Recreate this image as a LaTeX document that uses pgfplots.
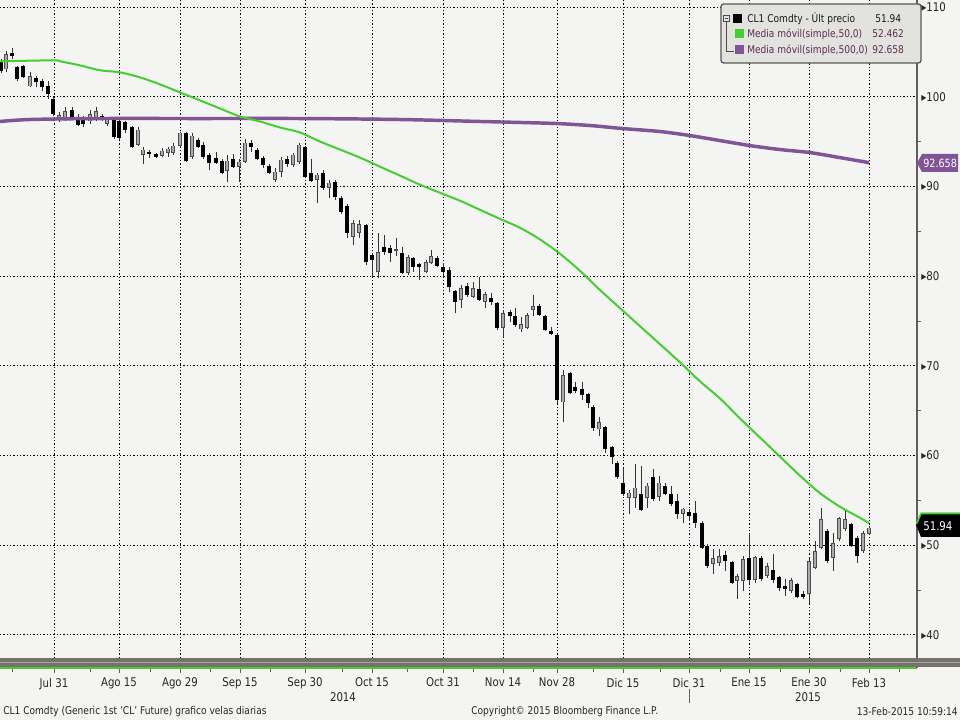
\documentclass[border=0pt]{standalone}
\usepackage{pgfplots}
\pgfplotsset{compat=1.18}
\usepackage{pgfplotstable}
\usepackage{fontspec}
\setmainfont{DejaVu Sans}[FakeStretch=0.85]

\definecolor{bgc}{RGB}{244,244,242}
\definecolor{magreen}{RGB}{70,205,50}
\definecolor{mapurple}{RGB}{128,84,150}
\definecolor{upfill}{RGB}{170,170,170}
\definecolor{axgray}{RGB}{95,95,95}
\definecolor{bandgray}{RGB}{118,113,105}
\definecolor{legfill}{RGB}{226,226,223}
\definecolor{legtext}{RGB}{95,45,85}

% daily candles, x = position along the time axis, o h l c in USD
\pgfplotstableread{
x o h l c
1 103.85 104.19 102.62 102.84
6 103.07 105.08 102.73 104.75
12 104.86 105.42 104.19 104.52
17 103.29 103.40 101.72 101.95
23 103.40 103.51 102.06 102.17
30 101.16 102.73 101.05 102.28
36 102.06 102.28 101.05 101.61
42 101.72 101.95 100.61 101.05
48 101.16 101.72 99.71 100.27
53 99.71 99.93 97.81 98.03
59 97.47 98.26 97.14 97.92
65 97.70 98.81 97.25 98.37
72 98.48 98.81 97.47 97.70
78 97.70 98.03 96.80 96.91
83 97.47 97.81 96.58 97.02
90 97.25 98.48 97.02 98.03
96 97.58 98.81 97.25 98.37
102 97.81 98.14 97.25 97.47
107 97.02 97.70 96.80 97.58
114 97.47 97.70 95.35 95.57
119 97.25 97.47 95.23 95.46
125 97.14 97.25 96.02 96.35
132 96.69 96.80 94.34 94.45
138 94.67 96.58 94.56 96.35
143 93.56 94.45 92.55 94.12
149 93.89 94.12 93.22 93.67
156 93.67 93.78 93.22 93.33
162 93.44 94.34 93.33 94.00
168 93.78 94.45 93.33 94.23
173 93.78 94.90 93.56 94.56
180 94.56 96.13 94.45 96.02
186 96.02 96.13 92.77 92.88
192 93.33 95.91 93.11 95.68
198 95.23 95.46 94.34 94.45
203 94.67 95.01 93.11 93.33
209 93.56 93.78 91.88 92.66
216 93.22 93.89 92.55 92.66
222 92.88 93.11 91.43 91.54
227 91.77 93.56 90.53 92.88
233 93.11 93.67 92.10 92.21
239 92.21 93.11 90.53 92.77
245 92.77 95.35 92.66 94.90
251 94.90 95.23 93.89 94.45
257 94.12 94.34 93.00 93.11
263 93.22 93.44 92.10 92.44
269 92.32 92.55 91.43 91.54
275 90.76 92.10 90.53 91.65
281 91.65 93.33 91.09 93.00
287 93.11 93.44 92.21 92.55
293 92.44 93.78 92.21 93.56
299 92.77 94.90 92.55 94.67
305 94.45 94.56 90.98 91.09
311 91.54 93.11 90.53 90.65
317 90.76 91.54 88.18 91.32
323 91.54 91.88 89.64 89.86
329 89.86 90.76 88.74 90.42
335 90.53 90.76 88.52 88.86
341 88.74 88.97 86.95 87.18
347 87.85 88.07 84.27 84.83
353 84.38 86.28 83.48 85.95
359 84.83 86.28 84.27 85.83
366 85.72 85.83 81.25 81.58
372 82.37 82.59 79.90 81.81
378 80.46 84.83 79.79 82.70
384 83.26 84.60 82.37 82.70
390 83.15 83.48 81.58 82.59
396 82.81 84.27 82.25 83.04
402 82.59 83.26 80.24 80.35
408 80.35 82.37 80.13 82.14
413 82.03 82.10 80.46 81.02
419 81.36 81.47 79.57 81.02
426 80.46 81.81 80.35 81.58
431 81.47 82.93 81.36 82.25
437 82.03 82.25 81.02 81.13
443 81.02 81.47 79.90 80.46
449 80.69 81.02 78.23 78.78
455 78.34 78.45 75.88 77.11
461 77.33 79.01 76.43 78.67
467 78.90 79.23 77.67 77.89
473 77.67 79.34 77.55 78.67
479 78.56 79.90 77.22 77.33
485 77.11 78.23 76.43 78.00
491 77.55 78.11 76.77 77.11
497 77.00 77.11 73.97 74.20
503 74.20 76.21 73.19 75.88
510 75.99 76.21 74.87 75.54
515 75.54 76.43 74.31 74.53
521 74.08 75.43 73.75 74.64
527 74.20 75.88 74.08 75.65
533 76.21 77.89 75.54 76.66
539 76.66 76.88 75.54 75.65
545 75.54 75.65 73.86 73.97
551 73.86 74.31 73.41 73.53
557 73.41 73.53 65.80 66.14
563 65.92 69.50 63.68 68.94
570 69.16 69.27 66.81 66.92
575 67.59 68.15 66.92 67.15
582 67.37 68.15 66.14 66.70
588 66.81 66.92 65.25 65.80
593 65.36 65.58 62.78 63.01
599 62.90 64.24 62.22 63.68
605 63.23 63.34 60.32 60.77
612 60.99 61.10 59.09 59.87
617 59.20 59.43 57.41 57.64
623 56.96 58.64 55.51 55.73
629 55.29 56.18 53.50 55.85
635 55.29 59.09 54.17 56.40
641 55.73 58.87 53.83 53.94
647 55.29 56.96 54.17 56.63
653 57.64 58.53 54.95 55.17
659 55.40 57.75 54.95 56.96
665 56.63 56.96 55.60 55.73
671 55.73 56.63 54.39 54.62
677 54.95 55.73 52.94 53.50
683 53.50 54.17 52.49 54.06
689 53.72 54.06 52.71 53.27
695 53.61 54.95 51.93 52.49
702 52.49 52.71 49.58 49.69
707 49.91 50.14 47.45 47.68
713 47.90 49.58 46.78 48.57
719 48.01 49.58 47.68 48.80
725 48.91 49.35 47.12 48.24
732 48.12 48.24 45.66 45.77
737 46.00 46.78 43.98 46.56
743 46.00 48.80 44.88 48.46
749 48.57 51.26 45.77 46.11
755 46.11 48.80 45.77 48.68
761 48.57 48.80 46.00 46.22
767 46.56 48.01 46.33 47.68
773 47.23 49.02 45.77 46.11
779 46.45 46.56 44.88 45.21
785 45.44 46.22 44.32 45.10
791 44.88 46.33 44.66 46.11
797 45.66 45.77 44.10 44.21
803 44.54 44.88 43.98 44.21
809 44.54 48.57 43.54 48.24
815 47.45 50.47 47.34 49.35
821 49.69 54.17 49.58 52.94
827 51.59 51.82 48.01 48.24
833 48.57 51.37 47.12 50.25
839 50.70 53.15 50.47 53.05
845 51.82 53.83 51.59 52.94
851 52.38 52.49 49.80 49.91
857 50.81 51.03 48.01 48.80
863 49.35 51.59 49.13 51.37
869 51.26 52.15 51.15 51.94
}\candles

% simple moving average, 50 days
\pgfplotstableread{
x ma
0 103.96
53 104.07
60 103.96
80 103.51
100 102.96
120 102.73
140 102.17
160 101.39
180 100.49
200 99.60
220 98.70
240 97.81
260 97.25
280 96.58
300 96.02
320 95.01
340 94.12
360 93.22
380 92.21
400 91.21
420 90.20
440 89.30
460 88.41
480 87.40
500 86.39
520 85.39
540 84.10
560 82.50
580 80.60
600 78.45
620 76.43
640 74.42
660 72.41
680 70.39
700 68.27
720 66.36
740 64.13
760 62.00
780 59.87
800 57.75
820 55.80
840 54.28
860 53.05
869 52.46
}\maFifty

% simple moving average, 500 days
\pgfplotstableread{
x ma
0 97.25
30 97.47
100 97.58
200 97.58
300 97.58
400 97.47
480 97.25
520 97.14
557 97.02
590 96.80
623 96.46
660 96.13
690 95.68
720 95.12
750 94.56
780 94.12
810 93.78
840 93.22
869 92.66
}\maFiveHundred

\begin{document}
\begin{tikzpicture}[font=\fontsize{8}{9.6}\selectfont]
\fill[bgc] (0,-39pt) rectangle (720pt,501pt);
\begin{axis}[
  at={(0,0)}, anchor=south west,
  scale only axis, width=687.75pt, height=501pt,
  xmin=0, xmax=917, ymin=36.3, ymax=110.8,
  axis x line*=bottom, axis y line*=right,
  x axis line style={draw=magreen, line width=1.1pt},
  y axis line style={draw=axgray, line width=1.5pt},
  xtick={54,119,180,240,305,372,443,503,557,623,689,749,809,869},
  xticklabels={Jul 31,Ago 15,Ago 29,Sep 15,Sep 30,Oct 15,Oct 31,Nov 14,Nov 28,Dic 15,Dic 31,Ene 15,Ene 30,Feb 13},
  minor xtick={12,90,150,210,270,342,407,473,533,593,660,720,780,840,899},
  ytick={40,50,...,110},
  yticklabels={▸40,▸50,▸60,▸70,▸80,▸90,▸100,▸110},
  minor ytick={45,55,...,105},
  tick align=outside, major tick length=3.5pt, minor tick length=3pt,
  tick style={draw=axgray, line width=0.6pt},
  every major y tick/.append style={draw=none},
  grid=major,
  major grid style={black, line width=0.7pt, dash pattern=on 0.9pt off 1.6pt},
  tick label style={font=\fontsize{9}{10.8}\selectfont, text=black!85},
  xticklabel style={yshift=-0.5pt},
  yticklabel style={anchor=west, inner xsep=0pt, xshift=-0.5pt},
]
% high-low wicks
\addplot[draw=none, mark=none, forget plot,
  error bars/.cd, y dir=plus, y explicit, error mark=none,
  error bar style={draw=black!80, line width=0.75pt, solid}]
  table[x=x, y=l, y error expr=\thisrow{h}-\thisrow{l}] {\candles};
% falling days
\addplot[draw=none, mark=none, forget plot,
  restrict expr to domain={\thisrow{o}-\thisrow{c}}{0:1000},
  error bars/.cd, y dir=plus, y explicit, error mark=none,
  error bar style={draw=black, line width=3.2pt, solid}]
  table[x=x, y=c, y error expr=\thisrow{o}-\thisrow{c}] {\candles};
% rising days: dark outline, then light body
\addplot[draw=none, mark=none, forget plot,
  restrict expr to domain={\thisrow{c}-\thisrow{o}}{0:1000},
  error bars/.cd, y dir=plus, y explicit, error mark=none,
  error bar style={draw=black!70, line width=3.2pt, solid}]
  table[x=x, y=o, y error expr=\thisrow{c}-\thisrow{o}] {\candles};
\addplot[draw=none, mark=none, forget plot,
  restrict expr to domain={\thisrow{c}-\thisrow{o}}{0.25:1000},
  error bars/.cd, y dir=plus, y explicit, error mark=none,
  error bar style={draw=upfill, line width=1.7pt, solid}]
  table[x=x, y expr=\thisrow{o}+0.08, y error expr=\thisrow{c}-\thisrow{o}-0.16] {\candles};
\addplot[mapurple, line width=2.6pt, mark=none, smooth] table[x=x, y=ma] {\maFiveHundred};
\addplot[magreen, line width=1.5pt, mark=none, smooth] table[x=x, y=ma] {\maFifty};
\end{axis}

% decorations, in pixel units of the 960x720 frame
\begin{scope}[shift={(0,501pt)}, x=0.75pt, y=-0.75pt]
  % band above the time axis
  \fill[bandgray] (0,658.5) rectangle (960,667.3);
  \draw[black!35, line width=0.6pt] (0,662.5) -- (960,662.5);
  % legend
  \draw[rounded corners=2pt, fill=legfill, draw=black!65, line width=1pt] (721,4) rectangle (921,63);
  \draw[black!70, line width=0.5pt] (723.5,15.5) rectangle (729.5,21.5);
  \draw[black!70, line width=0.5pt] (725,18.5) -- (728,18.5);
  \draw[black!70, line width=0.5pt] (726.5,21.5) -- (726.5,51) -- (734,51);
  \fill[black] (733,14) rectangle (742,23);
  \fill[magreen] (735,29) rectangle (744,38);
  \fill[mapurple] (735,45) rectangle (744,54);
  \node[anchor=west, inner sep=0pt, text=black!90] at (747,19) {CL1 Comdty - Últ precio};
  \node[anchor=west, inner sep=0pt, text=legtext] at (747,34) {Media móvil(simple,50,0)};
  \node[anchor=west, inner sep=0pt, text=legtext] at (747,50) {Media móvil(simple,500,0)};
  \node[anchor=west, inner sep=0pt, text=black!90] at (875,19) {51.94};
  \node[anchor=west, inner sep=0pt, text=legtext] at (872,34) {52.462};
  \node[anchor=west, inner sep=0pt, text=legtext] at (872,50) {92.658};
  % last values on the price scale
  \fill[mapurple] (917,163) -- (922,154) -- (958,154) -- (958,172) -- (922,172) -- cycle;
  \node[anchor=west, inner sep=0pt, text=white, font=\fontsize{8.5}{10}\selectfont] at (923,163) {92.658};
  \fill[black] (916,525) -- (921,513) -- (962,513) -- (962,537) -- (921,537) -- cycle;
  \draw[magreen, line width=1.2pt] (916.5,524) -- (921,513.5) -- (962,513.5);
  \node[anchor=west, inner sep=0pt, text=white, font=\fontsize{9}{10.8}\selectfont] at (923,526) {51.94};
  % years and footer
  \node[text=black!85, font=\fontsize{9}{10.8}\selectfont] at (343,697) {2014};
  \node[text=black!85, font=\fontsize{9}{10.8}\selectfont] at (808,697) {2015};
  \draw[axgray, line width=0.6pt] (689,689) -- (689,703);
  \node[anchor=west, inner sep=0pt, text=black!85] at (3,712) {CL1 Comdty (Generic 1st 'CL' Future) grafico velas diarias};
  \node[anchor=west, inner sep=0pt, text=black!85] at (471,712) {Copyright© 2015 Bloomberg Finance L.P.};
  \node[anchor=east, inner sep=0pt, text=black!85] at (958,712) {13-Feb-2015 10:59:14};
\end{scope}
\pgfresetboundingbox
\path (0,-39pt) rectangle (720pt,501pt);
\end{tikzpicture}
\end{document}
